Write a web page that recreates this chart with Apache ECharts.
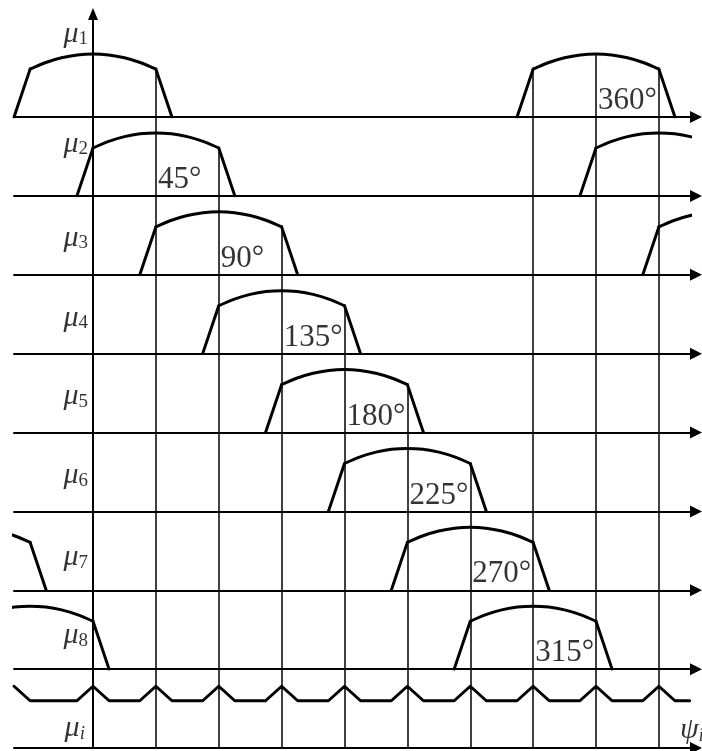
<!DOCTYPE html>
<html>
<head>
<meta charset="utf-8">
<title>membership functions</title>
<script src="https://cdn.jsdelivr.net/npm/echarts@6/dist/echarts.min.js"></script>
<style>
  html, body { margin: 0; padding: 0; background: #fff; }
  #chart { width: 702px; height: 751px; }
</style>
</head>
<body>
<div id="chart"></div>
<script>
// centre of each membership function (deg) and the text beside it
const rowCenters = [0, 45, 90, 135, 180, 225, 270, 315]
const rowSubs = ['1', '2', '3', '4', '5', '6', '7', '8']
const degreeText = ['360°', '45°', '90°', '135°', '180°', '225°', '270°', '315°']
const degreeAt = [360, 45, 90, 135, 180, 225, 270, 315]

// shape of one function, offsets from its centre (deg) and level (1 = top of arc)
const leftLegOffsets = [-56.5, -45]
const leftLegLevels = [0, 0.76]
const arcOffsets = [-45, -33.75, -22.5, -11.25, 0, 11.25, 22.5, 33.75, 45]
const arcLevels = [0.76, 0.865, 0.94, 0.985, 1, 0.985, 0.94, 0.865, 0.76]
const rightLegOffsets = [45, 56.5]
const rightLegLevels = [0.76, 0]

// thin vertical lines: angle, row they start in, level they start at
const vAngles = [45, 90, 135, 180, 225, 270, 315, 360, 405]
const vStartRow = [0, 1, 2, 3, 4, 5, 0, 0, 0]
const vStartLevel = [0.76, 0.76, 0.76, 0.76, 0.76, 0.76, 0.76, 1, 0.76]

// bottom curve (mu_i)
const sumAngles = [-56.5, -45, -11.5, 0, 11.5, 33.5, 45, 56.5, 78.5, 90, 101.5, 123.5, 135,
  146.5, 168.5, 180, 191.5, 213.5, 225, 236.5, 258.5, 270, 281.5, 303.5, 315, 326.5, 348.5,
  360, 371.5, 393.5, 405, 416.5, 427]
const sumLevels = [0.98, 0.75, 0.75, 0.98, 0.75, 0.75, 0.98, 0.75, 0.75, 0.98, 0.75, 0.75, 0.98,
  0.75, 0.75, 0.98, 0.75, 0.75, 0.98, 0.75, 0.75, 0.98, 0.75, 0.75, 0.98, 0.75, 0.75,
  0.98, 0.75, 0.75, 0.98, 0.75, 0.75]

// layout (pixels)
const zeroX = 93
const px45 = 503 / 8
const plotLeft = 14
const plotRight = 690
const unitPx = 63
const firstBase = 117
const rowStep = 78.875
const axisTop = 14
const muLift = [83, 52, 37, 36, 36, 36, 33, 34, 20]
const degLift = 16
const psiAt = 420
const psiLift = 18

const serif = 'Liberation Serif'
const nRows = 9
const xMin = (plotLeft - zeroX) / px45 * 45
const xMax = (plotRight - zeroX) / px45 * 45

const grids = []
const xAxes = []
const yAxes = []
const series = []

const muRich = {
  m: { fontFamily: serif, fontStyle: 'italic', fontSize: 30, color: '#000' },
  s: { fontFamily: serif, fontSize: 19, color: '#000', verticalAlign: 'bottom', lineHeight: 11 },
  si: { fontFamily: serif, fontStyle: 'italic', fontSize: 19, color: '#000', verticalAlign: 'bottom', lineHeight: 11 }
}

function curve (i, xs, ys, smooth) {
  series.push({
    type: 'line',
    xAxisIndex: i,
    yAxisIndex: i,
    data: xs.map((x, k) => [x, ys[k]]),
    smooth: smooth,
    symbol: 'none',
    silent: true,
    lineStyle: { color: '#000', width: 3, cap: 'round', join: 'round' },
    z: 5
  })
}

function textMark (i, x, y, text, pos, dist, style) {
  series.push({
    type: 'scatter',
    xAxisIndex: i,
    yAxisIndex: i,
    symbolSize: 0.1,
    itemStyle: { color: 'transparent' },
    silent: true,
    data: [[x, y]],
    label: Object.assign({ show: true, position: pos, distance: dist, formatter: text, color: '#000' }, style),
    z: 6
  })
}

for (let i = 0; i < nRows; i++) {
  const base = firstBase + i * rowStep
  const top = i === 0 ? axisTop : firstBase + (i - 1) * rowStep
  const yMax = (base - top) / unitPx
  grids.push({ left: plotLeft, width: plotRight - plotLeft, top: top, height: base - top, outerBoundsMode: 'none' })
  xAxes.push({
    type: 'value',
    gridIndex: i,
    min: xMin,
    max: xMax,
    axisLine: {
      show: true,
      onZero: false,
      symbol: ['none', 'triangle'],
      symbolSize: [12, 12],
      symbolOffset: [0, 6],
      lineStyle: { color: '#000', width: 2 }
    },
    axisTick: { show: false },
    axisLabel: { show: false },
    splitLine: { show: false }
  })
  yAxes.push({
    type: 'value',
    gridIndex: i,
    min: 0,
    max: yMax,
    axisLine: {
      show: true,
      onZero: true,
      symbol: i === 0 ? ['none', 'triangle'] : ['none', 'none'],
      symbolSize: [10, 12],
      lineStyle: { color: '#000', width: 2 }
    },
    axisTick: { show: false },
    axisLabel: { show: false },
    splitLine: { show: false }
  })

  // thin vertical lines
  const segs = []
  vAngles.forEach((a, k) => {
    if (vStartRow[k] === i) segs.push({ coords: [[a, 0], [a, vStartLevel[k]]] })
    else if (vStartRow[k] < i) segs.push({ coords: [[a, 0], [a, yMax]] })
  })
  series.push({
    type: 'lines',
    coordinateSystem: 'cartesian2d',
    xAxisIndex: i,
    yAxisIndex: i,
    silent: true,
    data: segs,
    lineStyle: { color: '#000', width: 1.5, opacity: 1, curveness: 0 },
    z: 2
  })

  if (i < 8) {
    [-360, 0, 360].forEach(shift => {
      const c = rowCenters[i] + shift
      curve(i, leftLegOffsets.map(o => c + o), leftLegLevels, false)
      curve(i, arcOffsets.map(o => c + o), arcLevels, 0.3)
      curve(i, rightLegOffsets.map(o => c + o), rightLegLevels, false)
    })
    textMark(i, 0, muLift[i] / unitPx, '{m|μ}{s|' + rowSubs[i] + '}', 'left', 5, { rich: muRich })
    textMark(i, degreeAt[i], degLift / unitPx, degreeText[i], 'right', 2,
      { fontFamily: serif, fontSize: 31 })
  } else {
    curve(i, sumAngles, sumLevels, false)
    textMark(i, 0, muLift[i] / unitPx, '{m|μ}{si|i}', 'left', 8, { rich: muRich })
    textMark(i, psiAt, psiLift / unitPx, '{m|ψ}{si|i}', 'right', 0, { rich: muRich })
  }
}

const chart = echarts.init(document.getElementById('chart'), null, { renderer: 'canvas' })
chart.setOption({
  animation: false,
  backgroundColor: '#fff',
  grid: grids,
  xAxis: xAxes,
  yAxis: yAxes,
  series: series
})
</script>
</body>
</html>
